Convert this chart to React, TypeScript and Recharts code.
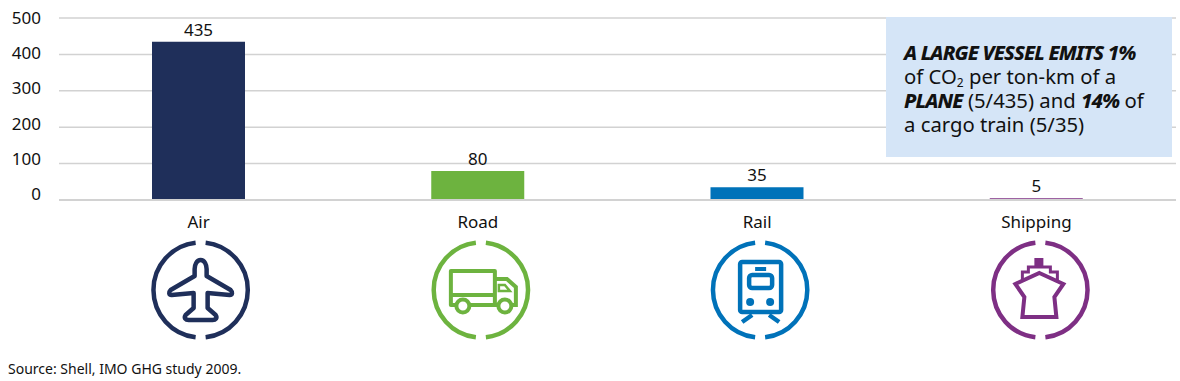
import { BarChart, Bar, XAxis, YAxis, CartesianGrid, Cell, LabelList } from 'recharts'

const categories = ['Air', 'Road', 'Rail', 'Shipping']
const emissions = [435, 80, 35, 5]
const yTicks = [0, 100, 200, 300, 400, 500]

const FONT = '"Noto Sans", "Open Sans", sans-serif'
const GRID = '#d2d2d2'

const COLORS: Record<string, string> = {
  Air: '#1f2f5a',
  Road: '#6db33f',
  Rail: '#0072b9',
  Shipping: '#7e2f84',
}

// icons sit a little right of the category label in the original
const ICON_SHIFT: Record<string, number> = { Air: 2, Road: 3, Rail: 3, Shipping: 4 }

const chartData = categories.map((name, i) => ({ name, value: emissions[i] }))

const strong = { fontWeight: 800, fontStyle: 'italic', letterSpacing: -0.9 } as const

function Icon({ name }: { name: string }) {
  const c = COLORS[name]
  if (name === 'Air') {
    return (
      <path
        d="M0,-30 C4,-30 6,-25 6,-21 L6,-14 L30,0 C32,2 32,5 29,5 L7,3 L7,18 L15,25 C17,28 15,30 12,30 L-12,30 C-15,30 -17,28 -15,25 L-7,18 L-7,3 L-29,5 C-32,5 -32,2 -30,0 L-6,-14 L-6,-21 C-6,-25 -4,-30 0,-30 Z"
        fill="none"
        stroke={c}
        strokeWidth={4.5}
        strokeLinejoin="round"
      />
    )
  }
  if (name === 'Road') {
    return (
      <g fill="none" stroke={c} strokeWidth={4}>
        <path d="M-30,-19 L14,-19 L14,15 L-30,15 Z" strokeLinejoin="round" />
        <path d="M-30,5 L14,5" />
        <path d="M14,-11 L26,-11 L35,-3 L35,15 L14,15" />
        <path d="M18,-5 L24,-5 L29,1 L18,1 Z" strokeWidth={2.5} />
        <circle cx={-18} cy={16} r={6.5} fill="#fff" />
        <circle cx={24} cy={16} r={6.5} fill="#fff" />
      </g>
    )
  }
  if (name === 'Rail') {
    return (
      <g fill="none" stroke={c} strokeWidth={4.5}>
        <rect x={-20} y={-28} width={41} height={50} rx={2} />
        <rect x={-5} y={-23} width={11} height={4} fill={c} stroke="none" />
        <rect x={-11} y={-15} width={23} height={13} rx={3} />
        <circle cx={-10} cy={12} r={4} fill={c} stroke="none" />
        <circle cx={10} cy={12} r={4} fill={c} stroke="none" />
        <path d="M-8,25 L-18,32 M9,25 L19,32" />
      </g>
    )
  }
  return (
    <g fill="none" stroke={c}>
      <rect x={-6} y={-32} width={9} height={9} fill={c} stroke="none" />
      <path
        d="M-18,-9 L-18,-18 L-12,-18 L-12,-23 L10,-23 L10,-18 L17,-18 L17,-9"
        strokeWidth={3}
      />
      <path
        d="M-1,-17 L23,-6 L14,7 L16,27 L-18,27 L-16,7 L-25,-6 Z"
        strokeWidth={4}
        strokeLinejoin="miter"
      />
    </g>
  )
}

function CategoryTick({ x, payload }: any) {
  const name = payload.value as string
  const c = COLORS[name]
  const cx = x + ICON_SHIFT[name]
  return (
    <g>
      <text x={x} y={228} textAnchor="middle" fontFamily={FONT} fontSize={17} fill="#111">
        {name}
      </text>
      <g transform={`translate(${cx},290)`}>
        <path
          d="M5,-47.2 A47.5,47.5 0 0 1 5,47.2 M-5,47.2 A47.5,47.5 0 0 1 -5,-47.2"
          fill="none"
          stroke={c}
          strokeWidth={4.5}
        />
        <Icon name={name} />
      </g>
    </g>
  )
}

// the y labels are spaced slightly tighter than the gridlines in the original
function ValueTick({ y, payload }: any) {
  const labelY = y - (y - 18) * 0.033
  return (
    <text x={41} y={labelY} dy="0.35em" textAnchor="end" fontFamily={FONT} fontSize={17} fill="#111">
      {payload.value}
    </text>
  )
}

export default function App() {
  return (
    <div style={{ position: 'absolute', left: 0, top: 0, width: 1180, height: 381, background: '#fff' }}>
      <BarChart
        width={1180}
        height={381}
        data={chartData}
        margin={{ top: 18, right: 4, left: 0, bottom: 0 }}
      >
        <CartesianGrid vertical={false} stroke={GRID} strokeWidth={1.5} />
        <XAxis
          dataKey="name"
          height={181}
          axisLine={{ stroke: GRID, strokeWidth: 2 }}
          tickLine={false}
          tick={<CategoryTick />}
          interval={0}
        />
        <YAxis
          width={59}
          domain={[0, 500]}
          ticks={yTicks}
          axisLine={false}
          tickLine={false}
          tick={<ValueTick />}
          interval={0}
        />
        <Bar dataKey="value" barSize={93} isAnimationActive={false}>
          {chartData.map((d) => (
            <Cell key={d.name} fill={COLORS[d.name]} />
          ))}
          <LabelList dataKey="value" position="top" offset={6} fontFamily={FONT} fontSize={17} fill="#111" />
        </Bar>
      </BarChart>

      {/* Callout box */}
      <div
        style={{
          position: 'absolute',
          left: 886,
          top: 17,
          width: 286,
          height: 140,
          boxSizing: 'border-box',
          padding: '23px 0 0 18px',
          background: '#d5e5f7',
          color: '#111',
          fontFamily: FONT,
          fontSize: 20.3,
          lineHeight: '24px',
          whiteSpace: 'nowrap',
        }}
      >
        <b style={strong}>A LARGE VESSEL EMITS 1%</b>
        <br />
        of CO<span style={{ fontSize: 12, position: 'relative', top: 3, lineHeight: 0 }}>2</span> per ton-km of a
        <br />
        <b style={strong}>PLANE</b> (5/435) and <b style={strong}>14%</b> of
        <br />
        a cargo train (5/35)
      </div>

      <div
        style={{
          position: 'absolute',
          left: 8,
          top: 360,
          fontFamily: FONT,
          fontSize: 14,
          lineHeight: '18px',
          color: '#111',
        }}
      >
        Source: Shell, IMO GHG study 2009.
      </div>
    </div>
  )
}
